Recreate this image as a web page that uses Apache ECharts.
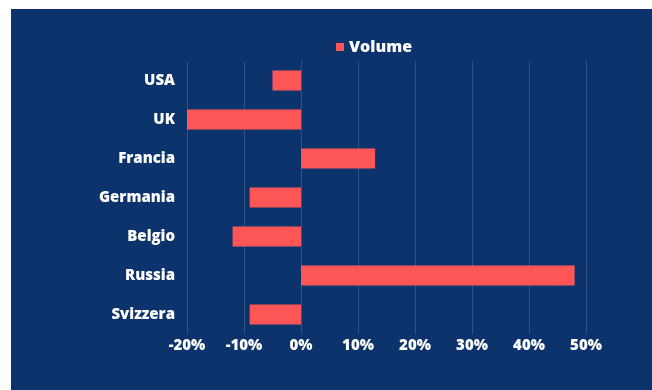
<!DOCTYPE html>
<html>
<head>
<meta charset="utf-8">
<script src="https://cdn.jsdelivr.net/npm/echarts@6/dist/echarts.min.js"></script>
<style>html,body{margin:0;padding:0;background:#fff}#c{width:652px;height:390px}</style>
</head>
<body>
<div id="c"></div>
<script>
const categories = ['USA', 'UK', 'Francia', 'Germania', 'Belgio', 'Russia', 'Svizzera'];
const volume = [-5, -20, 13, -9, -12, 48, -9];
const xTicks = [-20, -10, 0, 10, 20, 30, 40, 50];

const chart = echarts.init(document.getElementById('c'), null, {renderer: 'canvas'});
const font = '"Open Sans", "Noto Sans", sans-serif';
chart.setOption({
  backgroundColor: '#ffffff',
  animation: false,
  graphic: [{
    type: 'rect', z: -10, silent: true,
    shape: {x: 11, y: 9, width: 641, height: 381},
    style: {fill: '#0c336b'}
  }],
  legend: {
    left: 331, top: 34,
    itemWidth: 8, itemHeight: 8, itemGap: 10,
    icon: 'rect',
    textStyle: {color: '#ffffff', fontFamily: font, fontWeight: 800, fontSize: 16}
  },
  grid: {left: 187, right: 66, top: 61, bottom: 56, containLabel: false},
  xAxis: {
    type: 'value', min: xTicks[0], max: xTicks[xTicks.length - 1], interval: 10,
    axisLine: {show: false}, axisTick: {show: false},
    splitLine: {lineStyle: {color: 'rgba(160,180,220,0.25)', width: 1}},
    axisLabel: {color: '#ffffff', fontFamily: font, fontWeight: 800, fontSize: 15, margin: 4,
      formatter: v => v + '%'}
  },
  yAxis: {
    type: 'category', data: categories, inverse: true,
    axisLine: {show: false}, axisTick: {show: false},
    axisLabel: {color: '#ffffff', fontFamily: font, fontWeight: 800, fontSize: 15, margin: 12}
  },
  series: [{
    name: 'Volume', type: 'bar', data: volume,
    barWidth: 20,
    itemStyle: {color: '#fe5656'}
  }]
});
</script>
</body>
</html>
